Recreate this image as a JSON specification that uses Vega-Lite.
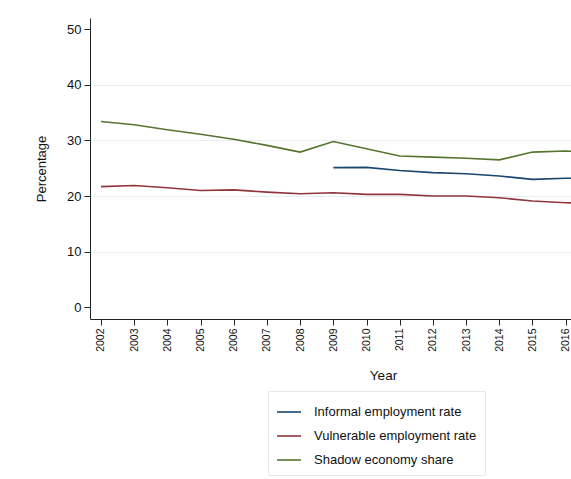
{
  "$schema": "https://vega.github.io/schema/vega-lite/v6.json",
  "autosize": "none",
  "width": 481,
  "height": 301,
  "padding": {"left": 90, "top": 18, "right": 0, "bottom": 160},
  "background": "white",
  "config": {
    "font": "Liberation Sans",
    "view": {"stroke": null},
    "axis": {"labelFont": "Liberation Sans", "titleFont": "Liberation Sans", "titleFontWeight": "normal", "labelColor": "#111111", "titleColor": "#111111", "domainColor": "#222222", "tickColor": "#222222"}
  },
  "data": {
    "values": [
      {"Year": 2009, "Series": "Informal employment rate", "Value": 25.1},
      {"Year": 2010, "Series": "Informal employment rate", "Value": 25.15},
      {"Year": 2011, "Series": "Informal employment rate", "Value": 24.6},
      {"Year": 2012, "Series": "Informal employment rate", "Value": 24.2},
      {"Year": 2013, "Series": "Informal employment rate", "Value": 24.0},
      {"Year": 2014, "Series": "Informal employment rate", "Value": 23.6},
      {"Year": 2015, "Series": "Informal employment rate", "Value": 23.0},
      {"Year": 2016, "Series": "Informal employment rate", "Value": 23.2},
      {"Year": 2017, "Series": "Informal employment rate", "Value": 23.2},
      {"Year": 2002, "Series": "Vulnerable employment rate", "Value": 21.7},
      {"Year": 2003, "Series": "Vulnerable employment rate", "Value": 21.9},
      {"Year": 2004, "Series": "Vulnerable employment rate", "Value": 21.5},
      {"Year": 2005, "Series": "Vulnerable employment rate", "Value": 21.0},
      {"Year": 2006, "Series": "Vulnerable employment rate", "Value": 21.1},
      {"Year": 2007, "Series": "Vulnerable employment rate", "Value": 20.7},
      {"Year": 2008, "Series": "Vulnerable employment rate", "Value": 20.4},
      {"Year": 2009, "Series": "Vulnerable employment rate", "Value": 20.6},
      {"Year": 2010, "Series": "Vulnerable employment rate", "Value": 20.3},
      {"Year": 2011, "Series": "Vulnerable employment rate", "Value": 20.3},
      {"Year": 2012, "Series": "Vulnerable employment rate", "Value": 20.0},
      {"Year": 2013, "Series": "Vulnerable employment rate", "Value": 20.0},
      {"Year": 2014, "Series": "Vulnerable employment rate", "Value": 19.7},
      {"Year": 2015, "Series": "Vulnerable employment rate", "Value": 19.1},
      {"Year": 2016, "Series": "Vulnerable employment rate", "Value": 18.8},
      {"Year": 2017, "Series": "Vulnerable employment rate", "Value": 18.6},
      {"Year": 2002, "Series": "Shadow economy share", "Value": 33.4},
      {"Year": 2003, "Series": "Shadow economy share", "Value": 32.8},
      {"Year": 2004, "Series": "Shadow economy share", "Value": 31.9},
      {"Year": 2005, "Series": "Shadow economy share", "Value": 31.1},
      {"Year": 2006, "Series": "Shadow economy share", "Value": 30.2},
      {"Year": 2007, "Series": "Shadow economy share", "Value": 29.1},
      {"Year": 2008, "Series": "Shadow economy share", "Value": 27.9},
      {"Year": 2009, "Series": "Shadow economy share", "Value": 29.8},
      {"Year": 2010, "Series": "Shadow economy share", "Value": 28.5},
      {"Year": 2011, "Series": "Shadow economy share", "Value": 27.2},
      {"Year": 2012, "Series": "Shadow economy share", "Value": 27.0},
      {"Year": 2013, "Series": "Shadow economy share", "Value": 26.8},
      {"Year": 2014, "Series": "Shadow economy share", "Value": 26.5},
      {"Year": 2015, "Series": "Shadow economy share", "Value": 27.9},
      {"Year": 2016, "Series": "Shadow economy share", "Value": 28.1},
      {"Year": 2017, "Series": "Shadow economy share", "Value": 27.8}
    ]
  },
  "mark": {"type": "line", "strokeWidth": 1.6, "clip": true},
  "encoding": {
    "x": {
      "field": "Year",
      "type": "quantitative",
      "scale": {"domain": [2001.67, 2016.16], "nice": false, "zero": false},
      "axis": {
        "values": [2002, 2003, 2004, 2005, 2006, 2007, 2008, 2009, 2010, 2011, 2012, 2013, 2014, 2015, 2016],
        "format": "d",
        "labelAngle": -90,
        "labelAlign": "right",
        "labelBaseline": "middle",
        "labelFontSize": 10.5,
        "labelPadding": 3,
        "tickSize": 6,
        "grid": false,
        "title": "Year",
        "titleFontSize": 13.5,
        "titlePadding": 17,
        "titleX": 293,
        "labelFlush": false,
        "labelOverlap": false
      }
    },
    "y": {
      "field": "Value",
      "type": "quantitative",
      "scale": {"domain": [-2.1, 52], "nice": false, "zero": false},
      "axis": {
        "values": [0, 10, 20, 30, 40, 50],
        "labelFontSize": 13,
        "labelPadding": 3,
        "tickSize": 6,
        "grid": true,
        "gridColor": "#e6eef0",
        "gridOpacity": {"condition": {"test": "datum.value == 0 || datum.value == 50", "value": 0}, "value": 1},
        "title": "Percentage",
        "titleFontSize": 13,
        "titlePadding": 18,
        "labelFlush": false
      }
    },
    "color": {
      "field": "Series",
      "type": "nominal",
      "scale": {
        "domain": ["Informal employment rate", "Vulnerable employment rate", "Shadow economy share"],
        "range": ["#1a476f", "#90353b", "#55752f"]
      },
      "legend": {
        "title": null,
        "orient": "none",
        "legendX": 178,
        "legendY": 373,
        "symbolType": "stroke",
        "symbolSize": 576,
        "symbolStrokeWidth": 1.6,
        "labelFontSize": 13,
        "labelColor": "#111111",
        "labelOffset": 12,
        "rowPadding": 4,
        "padding": 8,
        "strokeColor": "#e8e8e8",
        "labelLimit": 300
      }
    }
  }
}
